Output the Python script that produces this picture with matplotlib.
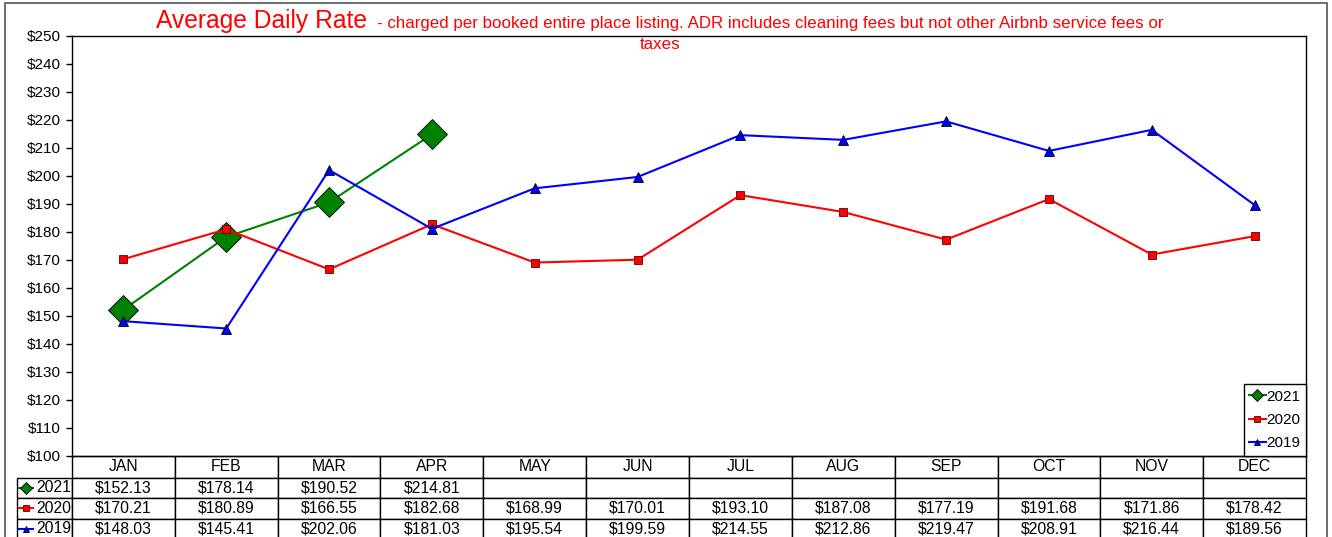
import numpy as np
import matplotlib
matplotlib.use("Agg")
import matplotlib.pyplot as plt
from matplotlib.table import Table
from matplotlib.lines import Line2D
from matplotlib.patches import Rectangle
from matplotlib.ticker import FuncFormatter

plt.rcParams['font.family'] = ['Liberation Sans', 'DejaVu Sans']

months = ["JAN", "FEB", "MAR", "APR", "MAY", "JUN", "JUL", "AUG", "SEP", "OCT", "NOV", "DEC"]
series_names = ["2021", "2020", "2019"]
v2021 = [152.13, 178.14, 190.52, 214.81]
v2020 = [170.21, 180.89, 166.55, 182.68, 168.99, 170.01, 193.10, 187.08, 177.19, 191.68, 171.86, 178.42]
v2019 = [148.03, 145.41, 202.06, 181.03, 195.54, 199.59, 214.55, 212.86, 219.47, 208.91, 216.44, 189.56]
yticks = list(range(100, 251, 10))

W, H = 1332, 537
fig = plt.figure(figsize=(W / 100, H / 100), dpi=100)
ax_l, ax_r, ax_t, ax_b = 72, 1306, 36, 455.5
ax = fig.add_axes([ax_l / W, 1 - ax_b / H, (ax_r - ax_l) / W, (ax_b - ax_t) / H])

styles = {
    "2021": dict(color="#008000", marker="D", ms=15, mec="black", mew=0.6, lw=1.5),
    "2020": dict(color="#ff0000", marker="s", ms=5.5, mec="#600000", mew=0.6, lw=1.5),
    "2019": dict(color="#0000ff", marker="^", ms=6.5, mec="black", mew=0.6, lw=1.5),
}
data = {"2021": v2021, "2020": v2020, "2019": v2019}
x = np.arange(len(months))
for name in series_names:
    vals = data[name]
    ax.plot(x[:len(vals)], vals, **styles[name], zorder=3)

ax.set_xlim(-0.5, len(months) - 0.5)
ax.set_ylim(yticks[0], yticks[-1])
ax.set_yticks(yticks)
ax.yaxis.set_major_formatter(FuncFormatter(lambda v, p: f"${v:.0f}"))
ax.set_xticks([])
ax.tick_params(axis='y', direction='out', length=4, width=1, labelsize=11, pad=4)
for s in ax.spines.values():
    s.set_color('black')
    s.set_linewidth(1)

# legend
handles = []
for name in series_names:
    st = dict(styles[name])
    st["ms"] = 6 if name == "2021" else 5
    handles.append(Line2D([], [], **st, label=name))
leg = ax.legend(handles=handles, loc='lower right', borderaxespad=0, fancybox=False,
                edgecolor='black', framealpha=1, fontsize=11, handlelength=1.1,
                handletextpad=0.05, labelspacing=0.6, borderpad=0.35)
leg.get_frame().set_linewidth(1)

# data table
axes_h = ax_b - ax_t
axes_w = ax_r - ax_l
tbl_left = 17
hdr_h, row_h = 22, 20.5
lab_w = ax_l - tbl_left
col_w = axes_w / len(months)
total_h = hdr_h + 3 * row_h
tbl = Table(ax, bbox=[(tbl_left - ax_l) / axes_w, -total_h / axes_h,
                      (ax_r - tbl_left) / axes_w, total_h / axes_h])
tbl.auto_set_font_size(False)
fs = 11.3
c = tbl.add_cell(0, 0, width=lab_w, height=hdr_h, text="")
c.visible_edges = ""
for j, m in enumerate(months):
    c = tbl.add_cell(0, j + 1, width=col_w, height=hdr_h, text=m, loc='center')
    c.get_text().set_fontsize(fs)
    c.set_linewidth(1)
for i, name in enumerate(series_names):
    c = tbl.add_cell(i + 1, 0, width=lab_w, height=row_h, text=name, loc='right')
    c.PAD = 0.02
    c.get_text().set_fontsize(fs)
    c.set_linewidth(1)
    vals = data[name]
    for j in range(len(months)):
        txt = f"${vals[j]:.2f}" if j < len(vals) else ""
        c = tbl.add_cell(i + 1, j + 1, width=col_w, height=row_h, text=txt, loc='center')
        c.get_text().set_fontsize(fs)
        c.set_linewidth(1)
ax.add_table(tbl)

# small series keys in table row labels
for i, name in enumerate(series_names):
    yc = 1 - (ax_b + hdr_h + row_h * (i + 0.5)) / H
    st = dict(styles[name])
    st["ms"] = 6 if name == "2021" else 5
    st["markevery"] = [1]
    fig.add_artist(Line2D([19 / W, 26 / W, 33 / W], [yc, yc, yc], **st, transform=fig.transFigure))

# title
fig.text(156 / W, 1 - 28 / H, "Average Daily Rate", color='red', fontsize=17.7, va='baseline', ha='left')
fig.text(377 / W, 1 - 28 / H,
         "- charged per booked entire place listing. ADR includes cleaning fees but not other Airbnb service fees or",
         color='red', fontsize=12.2, va='baseline', ha='left')
fig.text(660 / W, 1 - 49 / H, "taxes", color='red', fontsize=12.2, va='baseline', ha='center')

# outer border
fig.add_artist(Rectangle((5 / W, -0.01), (1327 - 5) / W, 1 - 3 / H + 0.01, transform=fig.transFigure,
                         fill=False, edgecolor='#555555', lw=1.2))

fig.savefig("out.png", dpi=100)
